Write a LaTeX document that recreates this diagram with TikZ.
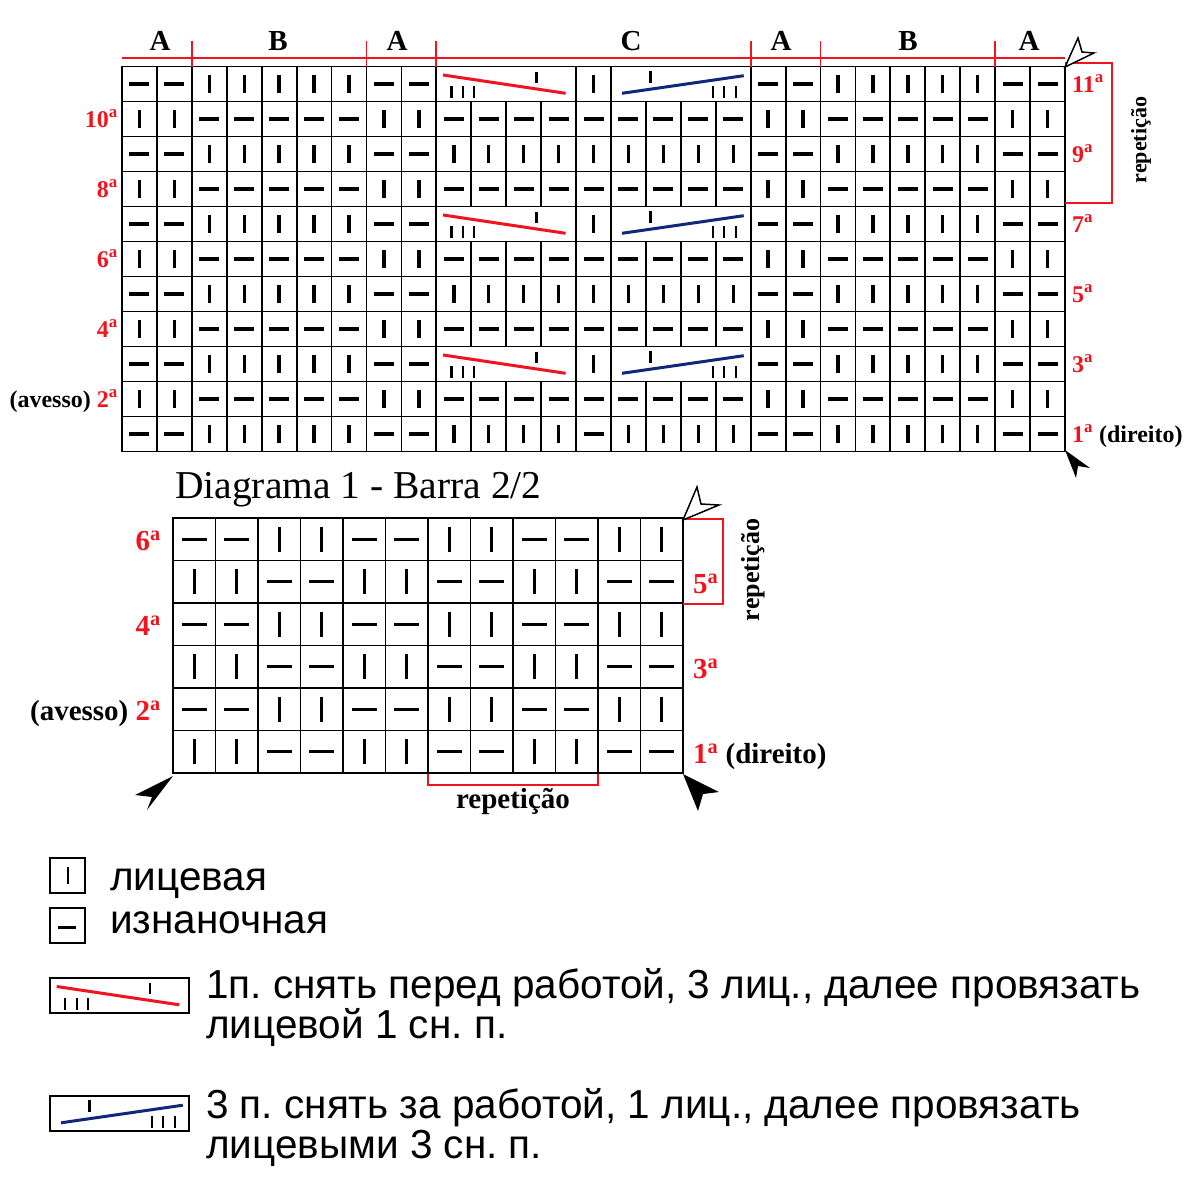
\documentclass[tikz,border=0pt]{standalone}
\usepackage{fontspec}
\setmainfont{Liberation Serif}
\newfontfamily\arialf{Liberation Sans}
\definecolor{mred}{RGB}{240,20,30}
\definecolor{mblue}{RGB}{15,40,120}
\newcommand\supa{\textsuperscript{a}}
\newcommand\fsz[1]{\fontsize{#1}{#1}\selectfont}
\frenchspacing
\def\patA{p,p,k,k,k,k,k,p,p,k,k,k,k,k,k,k,k,k,p,p,k,k,k,k,k,p,p}
\def\patB{k,k,p,p,p,p,p,k,k,p,p,p,p,p,p,p,p,p,k,k,p,p,p,p,p,k,k}
\def\patC{p,p,k,k,k,k,k,p,p,n,n,n,n,k,n,n,n,n,p,p,k,k,k,k,k,p,p}
\def\patD{p,p,k,k,k,k,k,p,p,k,k,k,k,p,k,k,k,k,p,p,k,k,k,k,k,p,p}
\tikzset{
  gridln/.style={line width=1.8pt,line cap=rect},
  sym/.style={line width=3.4pt},
  smallbar/.style={line width=2.4pt},
  redln/.style={mred,line width=1.8pt},
  lab/.style={font=\bfseries\fsz{24},inner sep=0pt},
  rlab/.style={lab,text=mred},
  blab/.style={font=\bfseries\fsz{29},inner sep=0pt},
  brlab/.style={blab,text=mred},
  leg/.style={font=\arialf\fsz{40.5},inner sep=0pt,anchor=base west},
  legbox/.style={line width=1.2pt},
  redcable/.pic={
    \draw[line width=3pt,mred] (6.7,8.5) -- (129.3,26.8);
    \draw[smallbar] (100,5) -- (100,16);
    \foreach \tx in {15,26.7,37.7} \draw[smallbar] (\tx,19.5) -- (\tx,31.8);
  },
  bluecable/.pic={
    \draw[line width=3pt,mblue] (11,26.8) -- (132.8,9.2);
    \draw[smallbar] (39.5,4) -- (39.5,16);
    \foreach \tx in {102,113,125} \draw[smallbar] (\tx,19.5) -- (\tx,31.8);
  }
}
\begin{document}
\begin{tikzpicture}[x=1pt,y=-1pt]
\useasboundingbox (0,0) rectangle (1200,1200);
\fill[white] (0,0) rectangle (1200,1200);
\def\xo{122}\def\yo{66.5}\def\cw{34.926}\def\ch{35}
% ---------- top chart grid
\foreach \j in {0,...,11} \draw[gridln] (\xo,\yo+\j*\ch) -- (\xo+27*\cw,\yo+\j*\ch);
\foreach \b in {0,...,9,13,14,18,19,20,21,22,23,24,25,26,27}
  \draw[gridln] (\xo+\b*\cw,\yo) -- (\xo+\b*\cw,\yo+11*\ch);
\foreach \b in {10,11,12,15,16,17} {
  \draw[gridln] (\xo+\b*\cw,\yo+\ch) -- (\xo+\b*\cw,\yo+4*\ch);
  \draw[gridln] (\xo+\b*\cw,\yo+5*\ch) -- (\xo+\b*\cw,\yo+8*\ch);
  \draw[gridln] (\xo+\b*\cw,\yo+9*\ch) -- (\xo+\b*\cw,\yo+11*\ch);
}
% symbols
\foreach \rt [count=\i from 0] in {C,B,A,B,C,B,A,B,C,B,D} {
  \expandafter\let\expandafter\pat\csname pat\rt\endcsname
  \foreach \sy [count=\c from 0] in \pat {
    \if\sy k \draw[sym] (\xo+\c*\cw+0.5*\cw,\yo+\i*\ch+8.5) -- ++(0,18); \fi
    \if\sy p \draw[sym] (\xo+\c*\cw+0.5*\cw-10,\yo+\i*\ch+17.5) -- ++(20,0); \fi
  }
}
\foreach \i in {0,4,8} {
  \pic at (\xo+9*\cw,\yo+\i*\ch) {redcable};
  \pic at (\xo+14*\cw,\yo+\i*\ch) {bluecable};
}
% header
\draw[redln] (\xo,58) -- (\xo+27*\cw,58);
\foreach \b in {2,7,9,18,20,25} \draw[redln] (\xo+\b*\cw,41) -- (\xo+\b*\cw,\yo);
\foreach \xx/\tt/\nm in {160/A/hA1,278/B/hB1,397/A/hA2,631/C/hC,781/A/hA3,908/B/hB2,1029/A/hA4}
  \node[font=\bfseries\fsz{29},inner sep=0pt,anchor=base] (\nm) at (\xx,50) {\tt};
% right repeat bracket
\draw[redln] (\xo+27*\cw,63) -- (1112,63) -- (1112,203) -- (\xo+27*\cw,203);
\node[font=\bfseries\fsz{22},rotate=90,inner sep=0pt] (rep1) at (1141,140) {repetição};
% row labels
\node[rlab,anchor=base west] (r11) at (1072,92) {11\supa};
\node[rlab,anchor=base west] (r9) at (1072,162) {9\supa};
\node[rlab,anchor=base west] (r7) at (1072,232) {7\supa};
\node[rlab,anchor=base west] (r5) at (1072,302) {5\supa};
\node[rlab,anchor=base west] (r3) at (1072,372) {3\supa};
\node[lab,anchor=base west] (r1) at (1072,442) {\textcolor{mred}{1\supa}\ (direito)};
\node[rlab,anchor=base east] (r10) at (118,127) {10\supa};
\node[rlab,anchor=base east] (r8) at (118,197) {8\supa};
\node[rlab,anchor=base east] (r6) at (118,267) {6\supa};
\node[rlab,anchor=base east] (r4) at (118,337) {4\supa};
\node[lab,anchor=base east] (r2) at (118,407) {(avesso) \textcolor{mred}{2\supa}};
% arrows top chart
\draw[line width=1.5pt,fill=white,line join=miter] (1065,67) -- (1078,38) -- (1082,52) -- (1094,53) -- cycle;
\fill[black] (1065,450) -- (1090,468) -- (1078,466) -- (1076,478) -- cycle;
% ---------- title
\node[font=\fsz{39.5},inner sep=0pt,anchor=base west] (title) at (175,498) {Diagrama 1 - Barra 2/2};
% ---------- bottom chart
\def\xb{173}\def\yb{518}\def\cb{42.5}
\foreach \j in {0,...,6} \draw[gridln] (\xb,\yb+\j*\cb) -- (\xb+12*\cb,\yb+\j*\cb);
\foreach \b in {0,...,12} \draw[gridln] (\xb+\b*\cb,\yb) -- (\xb+\b*\cb,\yb+6*\cb);
\foreach \i in {0,...,5} {
  \foreach \c in {0,...,11} {
    \pgfmathtruncatemacro\q{mod(floor(\c/2)+\i,2)}
    \ifnum\q=1
      \draw[sym] (\xb+\c*\cb+21.25,\yb+\i*\cb+8.75) -- ++(0,25);
    \else
      \draw[sym] (\xb+\c*\cb+8.75,\yb+\i*\cb+21.25) -- ++(25,0);
    \fi
  }
}
\draw[redln] (683,519) -- (723,519) -- (723,604) -- (683,604);
\node[font=\bfseries\fsz{26},rotate=90,inner sep=0pt] (rep2) at (753,570) {repetição};
\draw[redln] (428,774) -- (428,785) -- (598,785) -- (598,774);
\node[font=\bfseries\fsz{29},inner sep=0pt,anchor=base] (rep3) at (513,808) {repetição};
\node[brlab,anchor=base east] (b6) at (161,550) {6\supa};
\node[brlab,anchor=base east] (b4) at (161,635) {4\supa};
\node[blab,anchor=base east] (b2) at (161,720) {(avesso) \textcolor{mred}{2\supa}};
\node[brlab,anchor=base west] (b5) at (693,593) {5\supa};
\node[brlab,anchor=base west] (b3) at (693,678) {3\supa};
\node[blab,anchor=base west] (b1) at (693,763) {\textcolor{mred}{1\supa}\ (direito)};
\draw[line width=1.5pt,fill=white,line join=miter] (683,520) -- (697,487) -- (701,504) -- (719,505) -- cycle;
\fill[black] (173,776) -- (135,795) -- (152,797) -- (147,810) -- cycle;
\fill[black] (683,774) -- (719,792) -- (703,794) -- (698,811) -- cycle;
% ---------- legend
\draw[legbox] (50,858) rectangle (85,893); \draw[line width=2pt] (68,867) -- (68,884);
\draw[legbox] (50,908) rectangle (85,943); \draw[line width=3pt] (58,927) -- (76,927);
\node[leg] (l1) at (110,890) {лицевая};
\node[leg] (l2) at (110,933) {изнаночная};
\draw[legbox] (50,978) rectangle ++(139,35);
\pic at (50,978) {redcable};
\node[leg] (l3) at (206,998) {1п. снять перед работой, 3 лиц., далее провязать};
\node[leg] (l4) at (206,1038) {лицевой 1 сн. п.};
\draw[legbox] (50,1096) rectangle ++(139,35);
\pic at (50,1096) {bluecable};
\node[leg] (l5) at (206,1118) {3 п. снять за работой, 1 лиц., далее провязать};
\node[leg] (l6) at (206,1158) {лицевыми 3 сн. п.};
\end{tikzpicture}
\end{document}
